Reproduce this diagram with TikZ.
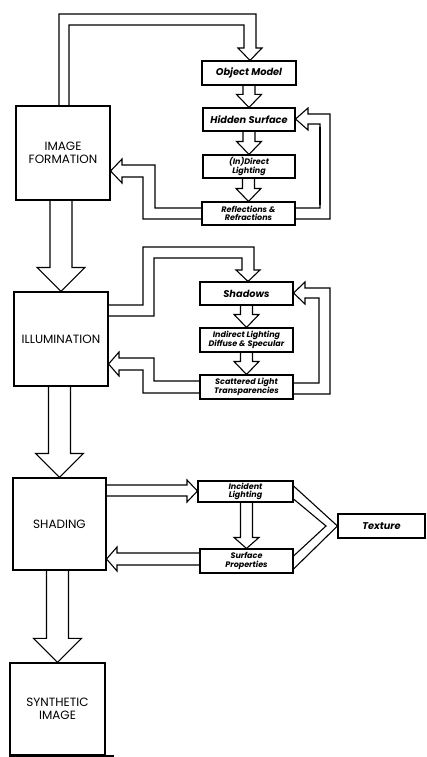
\documentclass[tikz,border=0pt]{standalone}
\usepackage{fontspec}
\setmainfont{Poppins}
\usetikzlibrary{calc}
\tikzset{
  bigbox/.style={draw, line width=1.1pt, inner sep=0pt, align=center,
    font=\fontsize{12}{12.5}\selectfont},
  smallbox/.style={draw, line width=1.1pt, inner sep=0pt, align=center,
    font=\bfseries\itshape\fontsize{9.8}{10}\selectfont},
  twoline/.style={font=\bfseries\itshape\fontsize{8}{8.6}\selectfont},
  pipe/.style={draw, line width=1.1pt, line join=miter},
}
\newcommand\blkdown[5]{\draw[pipe] let \p1=(#1.south), \p2=(#2.north) in
  (\x2-#3,\y1) -- (\x2-#3,\y2+#5) -- (\x2-#4,\y2+#5) -- (\x2,\y2) --
  (\x2+#4,\y2+#5) -- (\x2+#3,\y2+#5) -- (\x2+#3,\y1);}
\begin{document}
\begin{tikzpicture}[x=1pt,y=-1pt]
\useasboundingbox[fill=white] (0,0) rectangle (427,757);

% big boxes
\node[bigbox, minimum width=94pt, minimum height=94pt] (IF) at (63,153) {IMAGE\\FORMATION};
\node[bigbox, minimum width=94pt, minimum height=94pt] (IL) at (61,339) {ILLUMINATION};
\node[bigbox, minimum width=93pt, minimum height=92pt] (SH) at (59.5,524) {SHADING};
\node[bigbox, line width=1.4pt, minimum width=95pt, minimum height=92pt] (SI) at (57.5,709) {SYNTHETIC\\IMAGE};
\draw[line width=1.9pt] (SI.south west) -- (114,0 |- SI.south);

% small boxes
\node[smallbox, minimum width=94pt, minimum height=24pt] (OM) at (249,73) {Object Model};
\node[smallbox, minimum width=92pt, minimum height=23pt] (HS) at (249,119.5) {Hidden Surface};
\node[smallbox, twoline, minimum width=92pt, minimum height=23pt] (ID) at (249,166.5) {(In)Direct\\Lighting};
\node[smallbox, twoline, minimum width=93pt, minimum height=23pt] (RR) at (248.5,213.5) {Reflections \&\\Refractions};
\node[smallbox, minimum width=93pt, minimum height=23pt] (SD) at (246.5,293.5) {Shadows};
\node[smallbox, twoline, minimum width=93pt, minimum height=24pt] (IN) at (246.5,340) {Indirect Lighting\\Diffuse \& Specular};
\node[smallbox, twoline, minimum width=93pt, minimum height=24pt] (SC) at (246.5,387) {Scattered Light\\Transparencies};
\node[smallbox, twoline, minimum width=95pt, minimum height=21pt] (IC) at (245.5,491.5) {Incident\\Lighting};
\node[smallbox, twoline, minimum width=93pt, minimum height=24pt] (SP) at (246.5,561) {Surface\\Properties};
\node[smallbox, minimum width=87pt, minimum height=24pt] (TX) at (381.5,526) {Texture};

% big down arrows
\blkdown{IF}{IL}{11pt}{24pt}{24pt}
\blkdown{IL}{SH}{11pt}{24pt}{24pt}
\blkdown{SH}{SI}{11pt}{24pt}{24pt}

% small down arrows
\blkdown{OM}{HS}{6pt}{12.5pt}{13pt}
\blkdown{HS}{ID}{6pt}{12.5pt}{13pt}
\blkdown{ID}{RR}{6pt}{12.5pt}{13pt}
\blkdown{SD}{IN}{6pt}{12.5pt}{13pt}
\blkdown{IN}{SC}{6pt}{12.5pt}{13pt}
\blkdown{IC}{SP}{6pt}{12.5pt}{11pt}

% image formation -> object model
\draw[pipe] (59,0 |- IF.north) -- (59,14) -- (256,14) -- (256,48) -- (262,48)
  -- (250,0 |- OM.north) -- (238,48) -- (244,48) -- (244,25) -- (69,25) -- (69,0 |- IF.north);

% reflections -> hidden surface (feedback)
\draw[pipe] (RR.east |- 0,208) -- (320,208) -- (320,124) -- (308,124) -- (308,130)
  -- (HS.east |- 0,119) -- (308,108) -- (308,114) -- (330,114) -- (330,219) -- (RR.east |- 0,219);
\draw[line width=2.3pt] (320,127) -- (320,205);

% reflections -> image formation
\draw[pipe] (RR.west |- 0,208) -- (155,208) -- (155,165) -- (122,165) -- (122,159)
  -- (IF.east |- 0,171) -- (122,183) -- (122,177) -- (143,177) -- (143,219) -- (RR.west |- 0,219);

% illumination -> shadows
\draw[pipe] (IL.east |- 0,305) -- (143,305) -- (143,247) -- (254,247) -- (254,270) -- (260,270)
  -- (248,0 |- SD.north) -- (236,270) -- (242,270) -- (242,258) -- (154,258) -- (154,316) -- (IL.east |- 0,316);

% scattered -> shadows (feedback)
\draw[pipe] (SC.east |- 0,383) -- (319,383) -- (319,298) -- (305,298) -- (305,304)
  -- (SD.east |- 0,293) -- (305,282) -- (305,288) -- (330,288) -- (330,394) -- (SC.east |- 0,394);

% scattered -> illumination
\draw[pipe] (SC.west |- 0,381) -- (154,381) -- (154,358) -- (119,358) -- (119,352)
  -- (IL.east |- 0,364) -- (119,376) -- (119,370) -- (143,370) -- (143,393) -- (SC.west |- 0,393);

% shading -> incident lighting
\draw[pipe] (SH.east |- 0,485) -- (187,485) -- (187,480) -- (IC.west |- 0,491)
  -- (187,502) -- (187,496) -- (SH.east |- 0,496);

% surface properties -> shading
\draw[pipe] (SP.west |- 0,553) -- (117,553) -- (117,547) -- (SH.east |- 0,559)
  -- (117,571) -- (117,565) -- (SP.west |- 0,565);

% texture V
\draw[pipe] (IC.east |- 0,486) -- (TX.west) -- (SP.east |- 0,569);
\draw[pipe] (IC.east |- 0,499) -- (326,526) -- (SP.east |- 0,556);
\end{tikzpicture}
\end{document}
